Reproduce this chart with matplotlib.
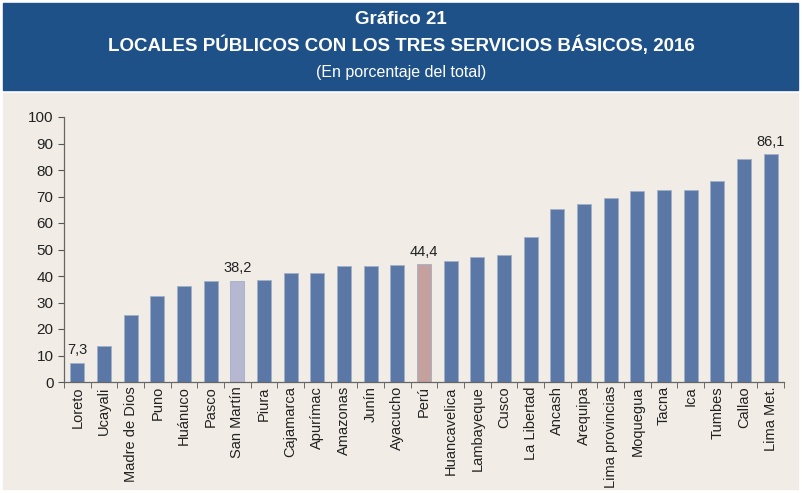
import matplotlib.pyplot as plt
from matplotlib.patches import Rectangle

# Data
regiones = ['Loreto', 'Ucayali', 'Madre de Dios', 'Puno', 'Huánuco', 'Pasco',
            'San Martín', 'Piura', 'Cajamarca', 'Apurímac', 'Amazonas', 'Junín',
            'Ayacucho', 'Perú', 'Huancavelica', 'Lambayeque', 'Cusco',
            'La Libertad', 'Ancash', 'Arequipa', 'Lima provincias', 'Moquegua',
            'Tacna', 'Ica', 'Tumbes', 'Callao', 'Lima Met.']
valores = [7.3, 13.4, 25.1, 32.6, 36.4, 38.0, 38.2, 38.6, 41.2, 41.3, 43.8, 43.8,
           44.2, 44.4, 45.8, 47.3, 47.9, 54.7, 65.4, 67.1, 69.3, 71.9, 72.4,
           72.6, 75.9, 84.3, 86.1]
etiquetados = ['Loreto', 'San Martín', 'Perú', 'Lima Met.']

plt.rcParams['font.family'] = ['Liberation Sans', 'DejaVu Sans']

fig = plt.figure(figsize=(8.02, 4.93), dpi=100)
fig.patch.set_facecolor('white')

# header band and beige panel
fig.patches.append(Rectangle((3 / 802, 1 - 90 / 493), 795 / 802, 87 / 493,
                             transform=fig.transFigure, color='#1f5189', zorder=-10))
fig.patches.append(Rectangle((3 / 802, 1 - 489 / 493), 795 / 802, 396 / 493,
                             transform=fig.transFigure, color='#f1ede6', zorder=-10))

fig.text(0.5, 1 - 19 / 493, 'Gráfico 21', ha='center', va='center',
         color='white', fontsize=13.5, fontweight='bold')
fig.text(0.5, 1 - 45 / 493, 'LOCALES PÚBLICOS CON LOS TRES SERVICIOS BÁSICOS, 2016',
         ha='center', va='center', color='white', fontsize=13.5, fontweight='bold')
fig.text(0.5, 1 - 72 / 493, '(En porcentaje del total)', ha='center', va='center',
         color='white', fontsize=11.5)

ax = fig.add_axes([64 / 802, 1 - 382 / 493, 720 / 802, 265 / 493])
ax.set_facecolor('none')

colores = []
for r in regiones:
    if r == 'San Martín':
        colores.append('#b6b7d1')
    elif r == 'Perú':
        colores.append('#c4a19c')
    else:
        colores.append('#5b77a5')

x = range(len(regiones))
ax.bar(x, valores, width=0.53, color=colores, edgecolor='#9fb0c9', linewidth=0.6)

for i, (r, v) in enumerate(zip(regiones, valores)):
    if r in etiquetados:
        ax.text(i, v + 2, f'{v:.1f}'.replace('.', ','), ha='center', va='bottom',
                fontsize=10.5, color='#222222')

ax.set_xlim(-0.5, len(regiones) - 0.5)
ax.set_ylim(0, 100)
ax.set_yticks(range(0, 101, 10))
ax.tick_params(axis='y', labelsize=11, length=4, color='#555555', labelcolor='#222222')

ax.set_xticks(list(x))
ax.set_xticklabels(regiones, rotation=90, fontsize=10.5, color='#222222')
ax.tick_params(axis='x', length=0, pad=3)
ax.set_xticks([i - 0.5 for i in range(len(regiones) + 1)], minor=True)
ax.tick_params(axis='x', which='minor', length=4, color='#555555')

for s in ['top', 'right']:
    ax.spines[s].set_visible(False)
for s in ['left', 'bottom']:
    ax.spines[s].set_color('#666666')
    ax.spines[s].set_linewidth(0.9)

fig.savefig('out.png', dpi=100)
